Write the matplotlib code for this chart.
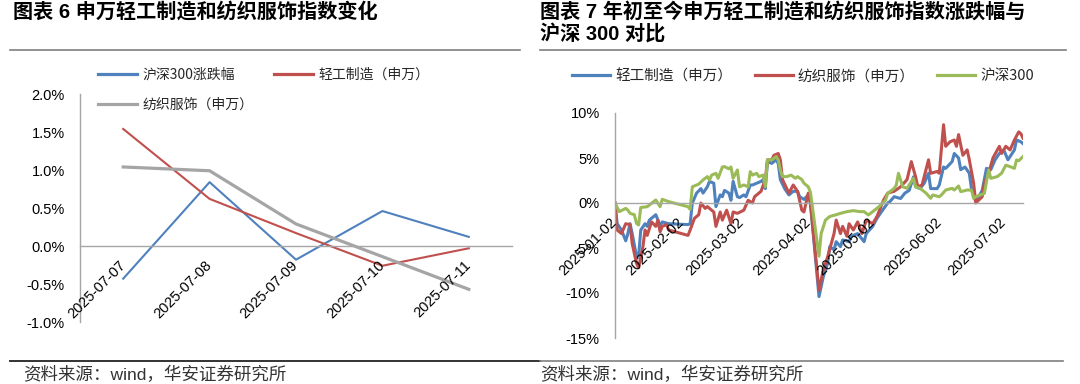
import matplotlib
matplotlib.use('Agg')
import matplotlib.pyplot as plt
from matplotlib.lines import Line2D
from matplotlib.ticker import FuncFormatter
import pandas as pd

plt.rcParams['font.family'] = ['Liberation Sans', 'Noto Sans CJK SC', 'DejaVu Sans']

# ---------------- Left chart data (daily change, %) ----------------
days = ['2025-07-07', '2025-07-08', '2025-07-09', '2025-07-10', '2025-07-11']
hs300_daily = [-0.43, 0.84, -0.18, 0.46, 0.12]
light_daily = [1.54, 0.62, 0.17, -0.26, -0.03]
textile_daily = [1.04, 0.99, 0.29, -0.14, -0.57]
left_labels = ['沪深300涨跌幅', '轻工制造（申万）', '纺织服饰（申万）']
left_yticks = [-1.0, -0.5, 0.0, 0.5, 1.0, 1.5, 2.0]

# ---------------- Right chart data (YTD change, %) ----------------
light_dates = ['2025-01-02', '2025-01-03', '2025-01-05', '2025-01-07', '2025-01-08', '2025-01-09',
               '2025-01-10', '2025-01-12', '2025-01-13', '2025-01-14', '2025-01-16', '2025-01-17',
               '2025-01-18', '2025-01-21', '2025-01-22', '2025-01-23', '2025-01-24', '2025-01-27',
               '2025-02-05', '2025-02-06', '2025-02-07', '2025-02-09', '2025-02-11', '2025-02-12',
               '2025-02-14', '2025-02-15', '2025-02-17', '2025-02-18', '2025-02-20', '2025-02-21',
               '2025-02-22', '2025-02-24', '2025-02-25', '2025-02-26', '2025-02-28',
               '2025-03-01', '2025-03-03', '2025-03-04', '2025-03-06', '2025-03-07', '2025-03-09',
               '2025-03-11', '2025-03-12', '2025-03-13', '2025-03-14', '2025-03-16', '2025-03-18',
               '2025-03-19', '2025-03-20', '2025-03-22', '2025-03-24', '2025-03-26', '2025-03-28',
               '2025-03-29', '2025-03-31',
               '2025-04-02', '2025-04-03', '2025-04-07', '2025-04-09', '2025-04-11', '2025-04-12',
               '2025-04-14', '2025-04-15', '2025-04-17', '2025-04-18', '2025-04-21', '2025-04-22',
               '2025-04-25', '2025-04-26', '2025-04-28', '2025-04-29',
               '2025-05-02', '2025-05-04', '2025-05-06', '2025-05-09', '2025-05-10', '2025-05-12',
               '2025-05-15', '2025-05-17', '2025-05-19', '2025-05-21', '2025-05-22', '2025-05-24',
               '2025-05-26', '2025-05-28', '2025-05-29',
               '2025-06-01', '2025-06-02', '2025-06-04', '2025-06-05', '2025-06-08', '2025-06-09',
               '2025-06-11', '2025-06-12', '2025-06-14', '2025-06-16', '2025-06-17', '2025-06-19',
               '2025-06-20', '2025-06-22', '2025-06-24', '2025-06-26', '2025-06-28', '2025-06-30',
               '2025-07-02', '2025-07-04', '2025-07-07', '2025-07-08', '2025-07-10', '2025-07-11']
light_ytd = [0.0, -2.3, -3.0, -4.2, -3.4, -2.3, -3.4, -5.9, -5.9, -3.0, -2.3, -2.6, -1.9, -1.3, -1.9, -2.6, -2.1, -2.3,
             -2.4, -2.3, 0.0, 1.1, 1.6, 1.1, 1.8, 2.4, 2.2, -0.4, 0.9, 0.7, 1.4, 1.1, 0.3, 2.4, 0.7,
             0.6, 0.9, 0.7, 2.0, 2.0, 2.2, 2.4, 2.6, 1.6, 4.6, 4.4, 4.8, 4.4, 2.6, 1.6, 0.9, 1.3, 1.3, 0.7, 0.4,
             0.9, 0.0, -10.4, -8.2, -6.7, -4.85, -5.2, -4.3, -4.85, -4.1, -4.3, -3.7, -3.4, -3.7, -4.3, -3.4,
             -2.6, -1.7, -1.0, 0.0, 0.15, 0.7, 0.5, 1.1, 1.4, 2.9, 1.8, 1.6, 2.2, 3.3, 1.6,
             1.6, 2.0, 4.0, 3.85, 4.6, 5.5, 5.0, 3.7, 4.0, 3.3, 1.6, 0.15, 0.5, 1.4, 3.85, 3.7, 4.8, 5.5,
             5.9, 4.8, 5.9, 7.0, 6.8, 6.6]

textile_dates = ['2025-01-02', '2025-01-03', '2025-01-05', '2025-01-07', '2025-01-09', '2025-01-10',
                 '2025-01-12', '2025-01-13', '2025-01-15', '2025-01-16', '2025-01-17', '2025-01-19',
                 '2025-01-21', '2025-01-22', '2025-01-23', '2025-01-24', '2025-01-26', '2025-01-27',
                 '2025-02-05', '2025-02-06', '2025-02-08', '2025-02-10', '2025-02-11', '2025-02-13',
                 '2025-02-14', '2025-02-17', '2025-02-18', '2025-02-20', '2025-02-21', '2025-02-23',
                 '2025-02-25', '2025-02-26', '2025-02-28',
                 '2025-03-03', '2025-03-05', '2025-03-07', '2025-03-08', '2025-03-10', '2025-03-11',
                 '2025-03-13', '2025-03-14', '2025-03-16', '2025-03-17', '2025-03-19', '2025-03-20',
                 '2025-03-21', '2025-03-23', '2025-03-24', '2025-03-26', '2025-03-28', '2025-03-30',
                 '2025-03-31',
                 '2025-04-02', '2025-04-03', '2025-04-07', '2025-04-09', '2025-04-11', '2025-04-14',
                 '2025-04-15', '2025-04-17', '2025-04-18', '2025-04-20', '2025-04-21', '2025-04-23',
                 '2025-04-25', '2025-04-27', '2025-04-29',
                 '2025-05-02', '2025-05-04', '2025-05-07', '2025-05-09', '2025-05-12', '2025-05-15',
                 '2025-05-18', '2025-05-20', '2025-05-22', '2025-05-23', '2025-05-25', '2025-05-28',
                 '2025-05-29',
                 '2025-06-01', '2025-06-02', '2025-06-04', '2025-06-05', '2025-06-07', '2025-06-09',
                 '2025-06-10', '2025-06-11', '2025-06-13', '2025-06-15', '2025-06-16', '2025-06-18',
                 '2025-06-19', '2025-06-22', '2025-06-23', '2025-06-25', '2025-06-27', '2025-06-30',
                 '2025-07-01', '2025-07-03', '2025-07-05', '2025-07-07', '2025-07-09', '2025-07-10',
                 '2025-07-11']
textile_ytd = [0.0, -3.0, -3.4, -2.3, -2.4, -4.5, -6.7, -7.2, -4.85, -3.0, -3.6, -2.1, -2.6, -1.9, -3.2, -2.6, -2.4, -3.0,
               -3.6, -3.0, -1.7, -1.3, 0.0, -0.6, -0.4, -1.0, -2.6, -1.0, -1.9, -0.8, -2.3, -1.0, -1.15,
               -0.8, 0.3, 0.0, 0.7, 1.1, 1.3, 2.6, 4.8, 4.8, 5.3, 5.5, 4.8, 2.6, 1.6, 1.1, 2.0, 1.3, -0.8, -1.0,
               1.1, 0.0, -9.7, -7.4, -6.0, -3.4, -1.9, -3.4, -2.6, -3.7, -2.3, -3.0, -2.1, -3.4, -1.9,
               -2.3, -1.5, 0.3, 1.1, 1.3, 1.8, 2.6, 4.6, 2.9, 1.8, 2.0, 4.8, 3.3,
               3.5, 3.3, 8.7, 6.3, 6.8, 7.0, 6.3, 7.6, 5.3, 5.9, 4.8, 2.2, 0.0, 0.7, 2.2, 3.3, 5.0, 6.3,
               5.5, 6.3, 5.9, 7.0, 7.9, 7.7, 7.2]

hs300_dates = ['2025-01-02', '2025-01-04', '2025-01-07', '2025-01-08', '2025-01-09', '2025-01-11',
               '2025-01-12', '2025-01-13', '2025-01-14', '2025-01-17', '2025-01-20', '2025-01-21',
               '2025-01-23', '2025-01-24', '2025-01-27',
               '2025-02-05', '2025-02-06', '2025-02-07', '2025-02-10', '2025-02-12', '2025-02-14',
               '2025-02-15', '2025-02-16', '2025-02-18', '2025-02-19', '2025-02-21', '2025-02-22',
               '2025-02-24', '2025-02-25', '2025-02-26', '2025-02-28',
               '2025-03-01', '2025-03-03', '2025-03-05', '2025-03-06', '2025-03-07', '2025-03-09',
               '2025-03-10', '2025-03-12', '2025-03-13', '2025-03-14', '2025-03-16', '2025-03-18',
               '2025-03-19', '2025-03-20', '2025-03-21', '2025-03-23', '2025-03-25', '2025-03-27',
               '2025-03-28', '2025-03-30', '2025-03-31',
               '2025-04-02', '2025-04-03', '2025-04-07', '2025-04-08', '2025-04-10', '2025-04-12',
               '2025-04-15', '2025-04-17', '2025-04-20', '2025-04-23', '2025-04-26', '2025-04-28',
               '2025-04-30',
               '2025-05-02', '2025-05-05', '2025-05-08', '2025-05-09', '2025-05-12', '2025-05-13',
               '2025-05-14', '2025-05-16', '2025-05-18', '2025-05-21', '2025-05-22', '2025-05-24',
               '2025-05-26', '2025-05-27', '2025-05-29', '2025-05-30',
               '2025-06-02', '2025-06-03', '2025-06-05', '2025-06-08', '2025-06-09', '2025-06-11',
               '2025-06-12', '2025-06-15', '2025-06-17', '2025-06-18', '2025-06-19', '2025-06-23',
               '2025-06-25', '2025-06-26', '2025-06-29',
               '2025-07-01', '2025-07-03', '2025-07-05', '2025-07-07', '2025-07-08', '2025-07-09',
               '2025-07-11']
hs300_ytd = [0.0, -0.96, -0.6, -0.8, -1.15, -1.3, -2.26, -2.44, -0.5, -0.41, 0.15, 0.33, -0.41, 0.41, 0.15,
             -0.41, -0.7, 1.8, 2.1, 2.56, 2.93, 2.56, 3.1, 3.3, 2.74, 4.0, 4.04, 3.8, 4.0, 2.74, 3.67,
             1.8, 2.0, 1.8, 3.48, 3.1, 3.3, 2.93, 3.1, 1.8, 4.8, 4.8, 5.15, 4.8, 3.67, 2.93, 2.93, 3.1, 2.74,
             2.93, 2.6, 2.2,
             1.8, 1.2, -5.9, -3.4, -1.9, -1.5, -1.3, -1.15, -0.96, -0.85, -0.96, -0.96, -1.33,
             -0.96, -0.4, 0.33, 1.07, 1.63, 2.0, 3.3, 1.8, 1.63, 2.74, 1.8, 1.63, 1.26, 1.07, 0.52, 0.89,
             0.7, 0.89, 1.44, 1.63, 1.44, 1.89, 1.26, 1.44, 1.44, 0.52, 0.7, 1.07, 3.67, 2.74, 2.93,
             3.3, 4.2, 4.04, 3.85, 4.78, 4.7, 5.15]

right_labels = ['轻工制造（申万）', '纺织服饰（申万）', '沪深300']
right_xticks = ['2025-01-02', '2025-02-02', '2025-03-02', '2025-04-02', '2025-05-02', '2025-06-02', '2025-07-02']
right_yticks = [-15, -10, -5, 0, 5, 10]
right_xrange = ['2025-01-02', '2025-07-11']

BLUE = '#4F81BD'
RED = '#C0504D'
GREEN = '#9BBB59'
GRAY = '#A5A5A5'
AXIS = '#A6A6A6'
CJK = ['Noto Sans CJK SC', 'DejaVu Sans']

W, H = 1080, 384
fig = plt.figure(figsize=(W / 100, H / 100), dpi=100)
fig.patch.set_facecolor('white')


def fx(px):
    return px / W


def fy(py):
    return 1 - py / H


def style_axes(ax):
    for s in ('top', 'right'):
        ax.spines[s].set_visible(False)
    ax.spines['left'].set_color(AXIS)
    ax.spines['left'].set_linewidth(1.0)
    ax.spines['bottom'].set_position(('data', 0))
    ax.spines['bottom'].set_color(AXIS)
    ax.spines['bottom'].set_linewidth(1.0)
    ax.set_axisbelow(False)
    ax.tick_params(axis='both', length=0, labelsize=10.5, colors='black')
    ax.tick_params(axis='y', pad=11)
    ax.tick_params(axis='x', pad=12)
    for lab in ax.get_xticklabels():
        lab.set_rotation(45)
        lab.set_ha('right')
        lab.set_va('center')
        lab.set_rotation_mode('anchor')
    ax.patch.set_alpha(0)


# ---------------- Left chart ----------------
ax1 = fig.add_axes([fx(80), fy(322), (512 - 80) / W, (322 - 94) / H])
xs = list(range(len(days)))
ax1.plot(xs, hs300_daily, color=BLUE, lw=1.5, zorder=2)
ax1.plot(xs, light_daily, color=RED, lw=1.5, zorder=2.1)
ax1.plot(xs, textile_daily, color=GRAY, lw=2.3, zorder=2.2)
ax1.set_xlim(-0.5, len(days) - 0.5)
ax1.set_ylim(left_yticks[0], left_yticks[-1])
ax1.set_yticks(left_yticks)
ax1.yaxis.set_major_formatter(FuncFormatter(lambda v, p: f'{v:.1f}%'))
ax1.set_xticks(xs)
ax1.set_xticklabels(days)
style_axes(ax1)

h_blue = Line2D([], [], color=BLUE, lw=2.3)
h_red = Line2D([], [], color=RED, lw=2.3)
h_gray = Line2D([], [], color=GRAY, lw=2.3)
fig.legend(handles=[h_blue, h_gray, h_red],
           labels=[left_labels[0], left_labels[2], left_labels[1]],
           ncol=2, loc='upper left', bbox_to_anchor=(fx(98), fy(68)),
           frameon=False, borderpad=0, borderaxespad=0,
           handlelength=2.8, handletextpad=0.4, columnspacing=1.5, labelspacing=1.15,
           prop={'family': CJK, 'size': 10}, labelcolor='#262626')

# ---------------- Right chart ----------------
ax2 = fig.add_axes([fx(615), fy(338), (1023 - 615) / W, (338 - 113) / H])
ax2.plot(pd.to_datetime(light_dates), light_ytd, color=BLUE, lw=2.2, zorder=2)
ax2.plot(pd.to_datetime(textile_dates), textile_ytd, color=RED, lw=2.2, zorder=2.1)
ax2.plot(pd.to_datetime(hs300_dates), hs300_ytd, color=GREEN, lw=2.2, zorder=2.2)
ax2.set_xlim(pd.to_datetime(right_xrange[0]), pd.to_datetime(right_xrange[1]))
ax2.set_ylim(right_yticks[0], right_yticks[-1])
ax2.set_yticks(right_yticks)
ax2.yaxis.set_major_formatter(FuncFormatter(lambda v, p: f'{v:.0f}%'))
ax2.set_xticks(pd.to_datetime(right_xticks))
ax2.set_xticklabels(right_xticks)
style_axes(ax2)

fig.legend(handles=[Line2D([], [], color=BLUE, lw=2.3), Line2D([], [], color=RED, lw=2.3),
                    Line2D([], [], color=GREEN, lw=2.3)],
           labels=right_labels, ncol=3, loc='upper left', bbox_to_anchor=(fx(572), fy(69)),
           frameon=False, borderpad=0, borderaxespad=0,
           handlelength=2.6, handletextpad=0.35, columnspacing=1.55,
           prop={'family': CJK, 'size': 10.5}, labelcolor='#262626')

# ---------------- Titles, rules, sources ----------------
fig.text(fx(13), fy(12), '图表 6 申万轻工制造和纺织服饰指数变化', fontsize=14.5, fontweight='bold',
         ha='left', va='center', color='black')
fig.text(fx(540), fy(12), '图表 7 年初至今申万轻工制造和纺织服饰指数涨跌幅与', fontsize=14.5, fontweight='bold',
         ha='left', va='center', color='black')
fig.text(fx(540), fy(35), '沪深 300 对比', fontsize=14.5, fontweight='bold',
         ha='left', va='center', color='black')

fig.add_artist(Line2D([fx(10), fx(520)], [fy(50), fy(50)], color='#7F7F7F', lw=1.2))
fig.add_artist(Line2D([fx(540), fx(1066)], [fy(50), fy(50)], color='#7F7F7F', lw=1.2))
fig.add_artist(Line2D([fx(10), fx(540)], [fy(361), fy(361)], color='#333333', lw=1.4))
fig.add_artist(Line2D([fx(540), fx(1063)], [fy(361), fy(361)], color='#7F7F7F', lw=1.2))

fig.text(fx(23), fy(374), '资料来源：wind，华安证券研究所', fontsize=12.6, ha='left', va='center', color='#333333')
fig.text(fx(540), fy(374), '资料来源：wind，华安证券研究所', fontsize=12.6, ha='left', va='center', color='#333333')

fig.savefig('out.png', dpi=100, facecolor='white')
